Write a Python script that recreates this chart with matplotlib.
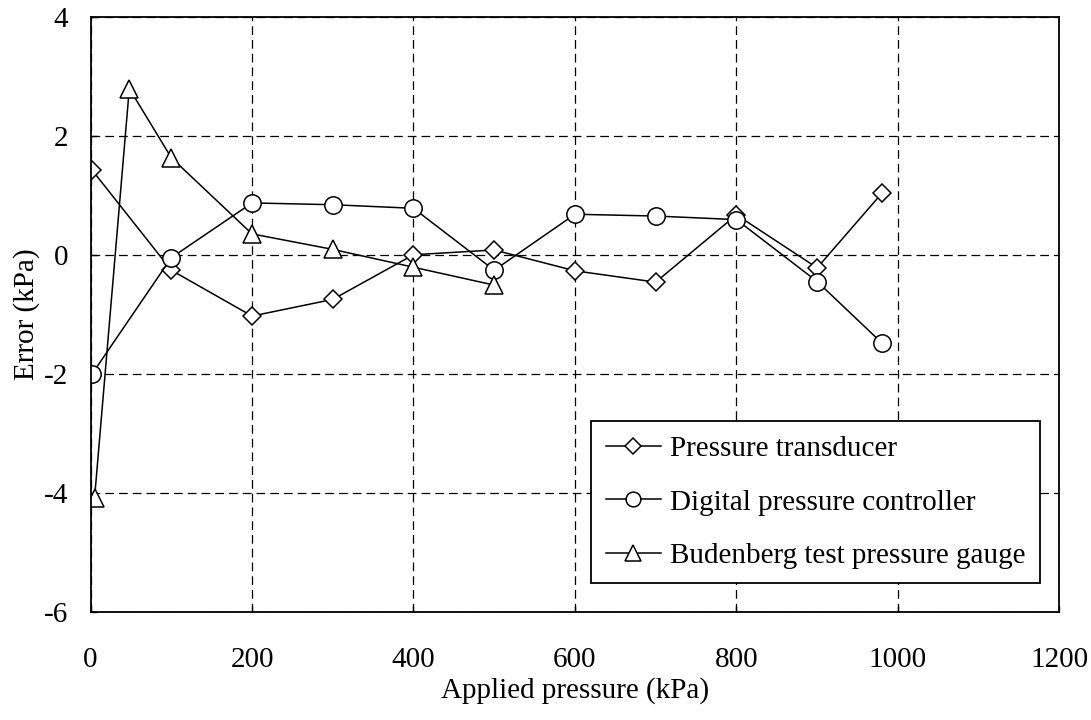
import matplotlib
matplotlib.use("Agg")
import matplotlib.pyplot as plt

plt.rcParams['font.family'] = ['Liberation Serif', 'DejaVu Serif']
plt.rcParams['axes.unicode_minus'] = False

# calibration error of each instrument against applied pressure
x_transducer = [2, 100, 200, 300, 400, 500, 600, 700, 800, 900, 980]
err_transducer = [1.42, -0.26, -1.03, -0.75, 0.0, 0.08, -0.27, -0.46, 0.67, -0.22, 1.03]

x_controller = [2, 100, 200, 300, 400, 500, 600, 700, 800, 900, 980]
err_controller = [-2.0, -0.05, 0.87, 0.84, 0.78, -0.26, 0.68, 0.65, 0.59, -0.45, -1.48]

x_budenberg = [5, 48, 100, 200, 300, 400, 500]
err_budenberg = [-4.08, 2.79, 1.63, 0.35, 0.09, -0.21, -0.51]

labels = ['Pressure transducer', 'Digital pressure controller',
          'Budenberg test pressure gauge']

fig = plt.figure(figsize=(10.91, 7.2), dpi=100)
ax = fig.add_axes([0.083, 0.150, 0.888, 0.827])

style = dict(color='black', lw=1.1, markerfacecolor='white',
             markeredgecolor='black', markeredgewidth=1.1)
ax.plot(x_transducer, err_transducer, marker='D', markersize=9.5,
        label=labels[0], **style)
ax.plot(x_controller, err_controller, marker='o', markersize=12.5,
        label=labels[1], **style)
ax.plot(x_budenberg, err_budenberg, marker='^', markersize=13.5,
        label=labels[2], **style)

ax.set_xlim(0, 1200)
ax.set_ylim(-6, 4)
ax.set_xticks(range(0, 1201, 200))
ax.set_yticks(range(-6, 5, 2))

ax.grid(True, color='black', lw=0.9, linestyle=(0, (7, 4)))
ax.set_axisbelow(True)

for s in ax.spines.values():
    s.set_linewidth(1.3)

ax.tick_params(axis='both', direction='in', length=4, width=1,
               labelsize=21, top=False, right=False)
ax.tick_params(axis='x', pad=25)
ax.tick_params(axis='y', pad=16)

ax.set_xlabel('Applied pressure (kPa)', fontsize=21, labelpad=3)
ax.set_ylabel('Error (kPa)', fontsize=21, labelpad=3)

leg = ax.legend(loc='lower right', bbox_to_anchor=(0.98, 0.048),
                fontsize=21, frameon=True, fancybox=False,
                edgecolor='black', framealpha=1, markerscale=0.85,
                handlelength=1.9, handletextpad=0.3, labelspacing=0.92,
                borderpad=0.5, borderaxespad=0)
leg.get_frame().set_linewidth(1.3)

fig.savefig('out.png', dpi=100)
